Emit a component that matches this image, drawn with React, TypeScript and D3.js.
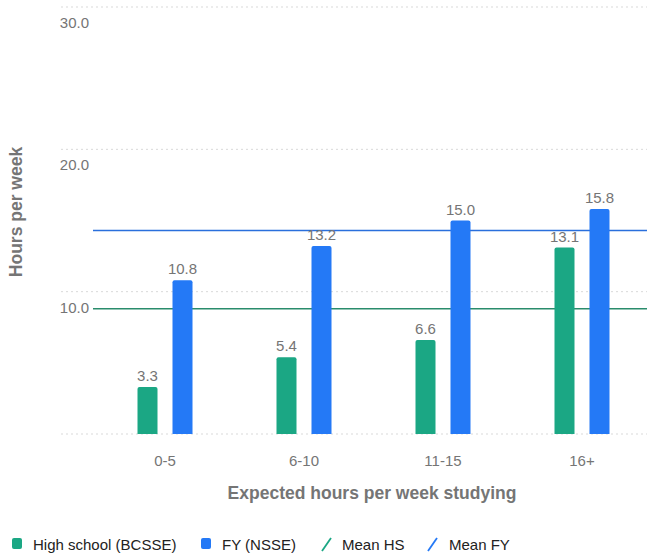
import React from "react";
import * as d3 from "d3";

const categories = ["0-5", "6-10", "11-15", "16+"];
const highSchool = [3.3, 5.4, 6.6, 13.1];
const firstYear = [10.8, 13.2, 15.0, 15.8];
const meanHS = 8.8;
const meanFY = 14.3;
const yTicks = [10, 20, 30];
const seriesNames = ["High school (BCSSE)", "FY (NSSE)"];
const meanNames = ["Mean HS", "Mean FY"];

const W = 647;
const H = 556;
const GREEN = "#1ba784";
const BLUE = "#2479f6";
const GREEN_LINE = "#2a8c6c";
const BLUE_LINE = "#2a6fdc";
const FONT = "'Liberation Sans', Arial, sans-serif";

export default function App() {
  const y = d3.scaleLinear().domain([0, 30]).range([434, 7]);
  const x = d3.scaleBand().domain(categories).range([95.5, 651.5]).padding(0);
  const sub = d3.scaleBand().domain(["hs", "fy"]).range([-35, 35]);
  const bw = 20;
  const r = 2;
  const barPath = (cx: number, v: number) => {
    const x0 = cx - bw / 2;
    const top = y(v);
    const bottom = y(0);
    return `M${x0},${bottom}V${top + r}Q${x0},${top} ${x0 + r},${top}H${x0 + bw - r}Q${x0 + bw},${top} ${x0 + bw},${top + r}V${bottom}Z`;
  };
  const off = (k: string) => (sub(k) as number) + sub.bandwidth() / 2;
  const fmt = d3.format(".1f");

  return (
    <svg width={W} height={H} style={{ position: "absolute", left: 0, top: 0, fontFamily: FONT }}>
      {[0, ...yTicks].map((t) => (
        <line key={"g" + t} x1={61} x2={W} y1={y(t)} y2={y(t)} stroke="#d9d9d9" strokeWidth={1} strokeDasharray="2 3" />
      ))}
      {yTicks.map((t) => (
        <text key={"yt" + t} x={89} y={y(t) + 21} textAnchor="end" fontSize={15} fill="#757575">
          {fmt(t)}
        </text>
      ))}
      <line x1={93} x2={W} y1={y(meanHS)} y2={y(meanHS)} stroke={GREEN_LINE} strokeWidth={1.5} />
      <line x1={93} x2={W} y1={y(meanFY)} y2={y(meanFY)} stroke={BLUE_LINE} strokeWidth={1.5} />
      {categories.map((c, i) => {
        const cx = (x(c) as number) + x.bandwidth() / 2;
        return (
          <g key={c}>
            <path d={barPath(cx + off("hs"), highSchool[i])} fill={GREEN} />
            <path d={barPath(cx + off("fy"), firstYear[i])} fill={BLUE} />
            <text x={cx + off("hs")} y={y(highSchool[i]) - 6} textAnchor="middle" fontSize={15} fill="#757575">
              {fmt(highSchool[i])}
            </text>
            <text x={cx + off("fy")} y={y(firstYear[i]) - 6} textAnchor="middle" fontSize={15} fill="#757575">
              {fmt(firstYear[i])}
            </text>
            <text x={cx} y={466} textAnchor="middle" fontSize={15} fill="#757575">
              {c}
            </text>
          </g>
        );
      })}
      <text x={372} y={499} textAnchor="middle" fontSize={17.5} fontWeight="bold" fill="#757575">
        Expected hours per week studying
      </text>
      <text transform="translate(22,212) rotate(-90)" textAnchor="middle" fontSize={17.5} fontWeight="bold" fill="#757575">
        Hours per week
      </text>
      <g fontSize={15} fill="#222">
        <rect x={12} y={538} width={10} height={11} rx={2} fill={GREEN} />
        <text x={33} y={550}>{seriesNames[0]}</text>
        <rect x={201} y={538} width={10} height={11} rx={2} fill={BLUE} />
        <text x={222} y={550}>{seriesNames[1]}</text>
        <line x1={322} y1={551} x2={331} y2={538} stroke={GREEN} strokeWidth={1.8} />
        <text x={342} y={550}>{meanNames[0]}</text>
        <line x1={428} y1={551} x2={437} y2={538} stroke={BLUE} strokeWidth={1.8} />
        <text x={449} y={550}>{meanNames[1]}</text>
      </g>
    </svg>
  );
}
